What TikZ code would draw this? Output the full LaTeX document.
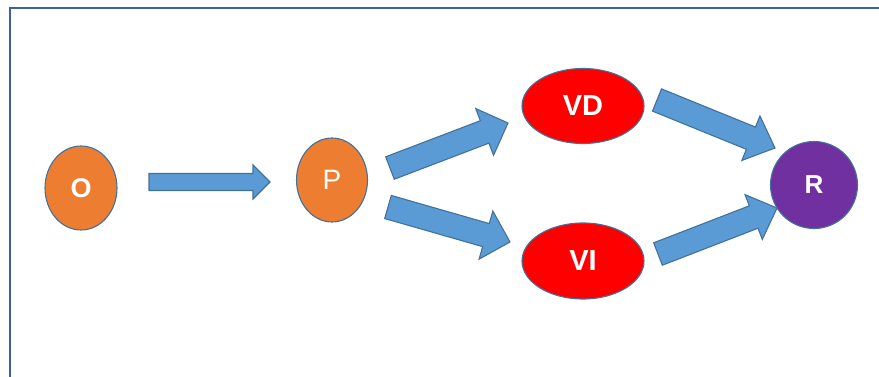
\documentclass[tikz,border=0pt]{standalone}
\usepackage{fontspec}
\setmainfont{Liberation Sans}
\usetikzlibrary{calc,shapes.geometric}
\definecolor{orng}{HTML}{ED7D31}
\definecolor{purp}{HTML}{7030A0}
\definecolor{arrowfill}{HTML}{5B9BD5}
\definecolor{edgeblue}{HTML}{41719C}
\definecolor{framecol}{HTML}{3F5FA5}
\tikzset{ var/.style={draw=edgeblue,line width=1.1pt,ellipse,inner sep=0pt,text=white},
  barrow/.style={draw=edgeblue,fill=arrowfill,line width=1.1pt,line join=miter} }
% block arrow: from, to, shaft half width, head half width, head length
\newcommand{\barr}[5]{%
  \draw[barrow] let \p1=($(#2)-(#1)$), \n1={atan2(\y1,\x1)}, \n2={veclen(\x1,\y1)} in
    [shift={(#1)},rotate=\n1]
    (0,-#3) -- ({\n2-#5},-#3) -- ({\n2-#5},-#4) -- (\n2,0) -- ({\n2-#5},#4) -- ({\n2-#5},#3) -- (0,#3) -- cycle;}

\begin{document}
\begin{tikzpicture}[x=1pt,y=1pt]
  \useasboundingbox (0,0) rectangle (879,376);
  \draw[framecol,line width=2.6pt] (10,368) rectangle (900,-20);
  \node[var,fill=orng,minimum width=72,minimum height=84,font=\fontsize{27}{30}\selectfont\bfseries] (O) at (81,188) {O};
  \node[var,fill=orng,minimum width=71,minimum height=84,font=\fontsize{28}{32}\selectfont] (P) at (332,196) {P};
  \node[var,fill=red,minimum width=122,minimum height=75,font=\fontsize{29}{32}\selectfont\bfseries] (VD) at (583,270) {VD};
  \node[var,fill=red,minimum width=122,minimum height=76,font=\fontsize{29}{32}\selectfont\bfseries] (VI) at (583,115) {VI};
  \node[var,circle,fill=purp,minimum size=87,font=\fontsize{26}{30}\selectfont\bfseries] (R) at (814,191) {R};
  \coordinate (op-a) at (149,194); \coordinate (op-b) at (270,194);
  \coordinate (pvd-a) at (390,208); \coordinate (pvd-b) at (508,253);
  \coordinate (pvi-a) at (388,169); \coordinate (pvi-b) at (510,134);
  \coordinate (vdr-a) at (657,276); \coordinate (vdr-b) at (775,228);
  \coordinate (vir-a) at (658,122); \coordinate (vir-b) at (777,168);
  \barr{op-a}{op-b}{8.5}{17}{17}
  \barr{pvd-a}{pvd-b}{12}{25}{25}
  \barr{pvi-a}{pvi-b}{12}{25}{25}
  \barr{vdr-a}{vdr-b}{12}{24}{26}
  \barr{vir-a}{vir-b}{12}{24}{25}
\end{tikzpicture}
\end{document}
